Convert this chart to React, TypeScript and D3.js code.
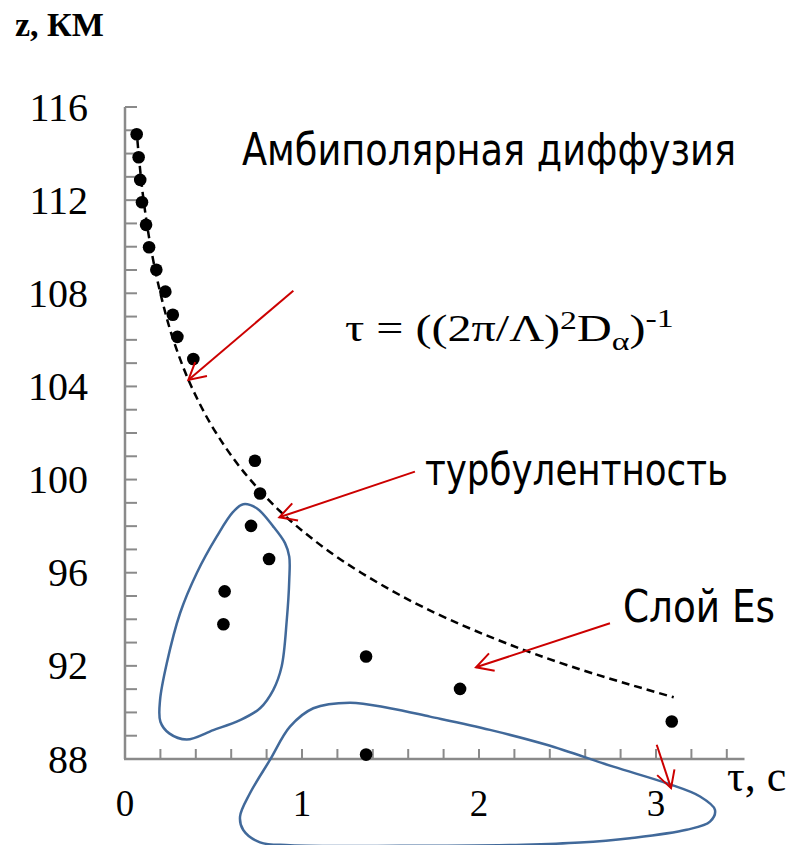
import React from "react";
import * as d3 from "d3";

// Observed relaxation times τ (s) versus height z (km)
const tauObs = [0.066, 0.077, 0.086, 0.096, 0.119, 0.136, 0.177, 0.228, 0.27, 0.296, 0.386,
  0.734, 0.763, 0.712, 0.814, 0.563, 0.556, 1.362, 1.893, 3.089, 1.362];
const zObs = [114.83, 113.84, 112.87, 111.91, 110.94, 109.98, 109.01, 108.07, 107.08, 106.13, 105.18,
  100.81, 99.4, 98.01, 96.59, 95.2, 93.79, 92.4, 91.01, 89.61, 88.19];

// Ambipolar diffusion curve τ = ((2π/Λ)²Dα)⁻¹
const zDiff = [114.58, 112, 110, 108, 106, 104, 102, 100, 98, 96, 94, 92, 90.65];
const tauDiff = [0.07, 0.105, 0.145, 0.2, 0.273, 0.375, 0.515, 0.707, 0.97, 1.334, 1.83, 2.51, 3.1];

// Outline around the turbulence group
const tauLoopA = [0.668, 0.744, 0.838, 0.904, 0.928, 0.928, 0.914, 0.885, 0.838, 0.763, 0.65, 0.499,
  0.349, 0.25, 0.2, 0.198, 0.236, 0.311, 0.405, 0.518, 0.612];
const zLoopA = [98.94, 98.77, 97.98, 97.27, 96.69, 95.69, 93.97, 91.97, 90.97, 90.18, 89.67, 89.24,
  88.84, 89.1, 89.6, 90.53, 92.11, 94.26, 95.98, 97.55, 98.62];

// Outline around the Es-layer group
const tauLoopB = [1.271, 1.497, 1.723, 2.062, 2.382, 2.759, 3.06, 3.249, 3.333, 3.305, 3.173, 2.853,
  2.571, 2.25, 1.554, 0.932, 0.763, 0.668, 0.65, 0.706, 0.819, 0.932, 1.064];
const zLoopB = [90.42, 90.18, 89.82, 89.25, 88.61, 87.67, 86.96, 86.39, 85.82, 85.31, 84.96, 84.6,
  84.41, 84.32, 84.27, 84.3, 84.42, 84.95, 85.53, 86.53, 87.96, 89.39, 90.18];

// Pointer arrows: start and tip in (τ, z)
const arrowTauFrom = [0.951, 1.638, 2.74, 3.004];
const arrowZFrom = [108.11, 100.34, 93.83, 88.61];
const arrowTauTo = [0.358, 0.872, 1.983, 3.085];
const arrowZTo = [104.28, 98.38, 91.94, 86.75];

const yTickLabels = [88, 92, 96, 100, 104, 108, 112, 116];
const xTickLabels = [0, 1, 2, 3];

const W = 794;
const H = 845;
const X0 = 125;
const X_UNIT = 177;
const Y_TOP = 107;
const Y_BOT = 759;

const serif = "'Liberation Serif', 'Times New Roman', serif";
const sans = "'DejaVu Sans Condensed', 'DejaVu Sans', sans-serif";

export default function App() {
  const x = d3.scaleLinear().domain([0, 1]).range([X0, X0 + X_UNIT]);
  const y = d3.scaleLinear().domain([88, 116]).range([Y_BOT, Y_TOP]);
  const xEnd = x(3.5);

  const yMinor = d3.range(89, 117, 1);
  const xMinor = d3.range(1, 18).map((i) => i * 0.2);

  const diffLine = d3
    .line<number>()
    .x((i) => x(tauDiff[i]))
    .y((i) => y(zDiff[i]))
    .curve(d3.curveMonotoneY);

  const loop = (ts: number[], zs: number[]) =>
    d3
      .line<number>()
      .x((i) => x(ts[i]))
      .y((i) => y(zs[i]))
      .curve(d3.curveCatmullRomClosed.alpha(0.5))(d3.range(ts.length)) || "";

  const arrows = arrowTauFrom.map((_, i) => {
    const x1 = x(arrowTauFrom[i]);
    const y1 = y(arrowZFrom[i]);
    const x2 = x(arrowTauTo[i]);
    const y2 = y(arrowZTo[i]);
    const ang = Math.atan2(y1 - y2, x1 - x2);
    const L = 19;
    const a = 0.5;
    const h1 = [x2 + L * Math.cos(ang + a), y2 + L * Math.sin(ang + a)];
    const h2 = [x2 + L * Math.cos(ang - a), y2 + L * Math.sin(ang - a)];
    return { x1, y1, x2, y2, h1, h2 };
  });

  const axisColor = "#8a8a8a";
  const red = "#cc0000";
  const blue = "#41699a";

  return (
    <svg width={W} height={H} style={{ position: "absolute", left: 0, top: 0, background: "#fff" }}>
      {/* axes */}
      <line x1={X0} y1={Y_TOP} x2={X0} y2={Y_BOT} stroke={axisColor} strokeWidth={2.5} />
      <line x1={X0 - 1} y1={Y_BOT} x2={xEnd} y2={Y_BOT} stroke={axisColor} strokeWidth={2.5} />
      {yMinor.map((v) => (
        <line key={"yt" + v} x1={X0} x2={X0 + 12} y1={y(v)} y2={y(v)} stroke={axisColor} strokeWidth={2} />
      ))}
      {xMinor.map((v) => (
        <line key={"xt" + v} x1={x(v)} x2={x(v)} y1={Y_BOT} y2={Y_BOT - 10} stroke={axisColor} strokeWidth={2} />
      ))}
      {yTickLabels.map((v) => (
        <text key={"yl" + v} x={88} y={y(v) + 13.5} textAnchor="end" fontFamily={serif} fontSize={40} fill="#000">
          {v}
        </text>
      ))}
      {xTickLabels.map((v) => (
        <text key={"xl" + v} x={x(v)} y={816} textAnchor="middle" fontFamily={serif} fontSize={37} fill="#000">
          {v}
        </text>
      ))}
      <text x={15} y={36} fontFamily={serif} fontSize={34} fontWeight="bold" fill="#000">
        z, КМ
      </text>
      <text x={727} y={791} fontFamily={serif} fontSize={44} fill="#000">
        τ, c
      </text>

      {/* outlines */}
      <path d={loop(tauLoopA, zLoopA)} fill="none" stroke={blue} strokeWidth={2.5} />
      <path d={loop(tauLoopB, zLoopB)} fill="none" stroke={blue} strokeWidth={2.5} />

      {/* diffusion curve */}
      <path
        d={diffLine(d3.range(tauDiff.length)) || ""}
        fill="none"
        stroke="#000"
        strokeWidth={2.5}
        strokeDasharray="8 5"
      />

      {/* observations */}
      {tauObs.map((t, i) => (
        <circle key={"p" + i} cx={x(t)} cy={y(zObs[i])} r={6.3} fill="#000" />
      ))}

      {/* arrows */}
      {arrows.map((a, i) => (
        <g key={"a" + i} stroke={red} strokeWidth={2} fill="none">
          <line x1={a.x1} y1={a.y1} x2={a.x2} y2={a.y2} />
          <polyline points={`${a.h1[0]},${a.h1[1]} ${a.x2},${a.y2} ${a.h2[0]},${a.h2[1]}`} />
        </g>
      ))}

      {/* annotations */}
      <text x={242} y={165} fontFamily={sans} fontSize={44} fill="#000" textLength={494} lengthAdjust="spacingAndGlyphs">
        Амбиполярная диффузия
      </text>
      <text x={425} y={485} fontFamily={sans} fontSize={44} fill="#000" textLength={303} lengthAdjust="spacingAndGlyphs">
        турбулентность
      </text>
      <text x={623} y={622} fontFamily={sans} fontSize={44} fill="#000" textLength={152} lengthAdjust="spacingAndGlyphs">
        Слой Es
      </text>
      <g transform="translate(345,341) scale(1.3,1)">
        <text x={0} y={0} fontFamily={serif} fontSize={37} fill="#000">
          τ = ((2π/Λ)
          <tspan fontSize={26} dy={-12}>2</tspan>
          <tspan dy={12}>D</tspan>
          <tspan fontSize={26} dy={9}>α</tspan>
          <tspan dy={-9}>)</tspan>
          <tspan fontSize={26} dy={-14}>-1</tspan>
        </text>
      </g>
    </svg>
  );
}
